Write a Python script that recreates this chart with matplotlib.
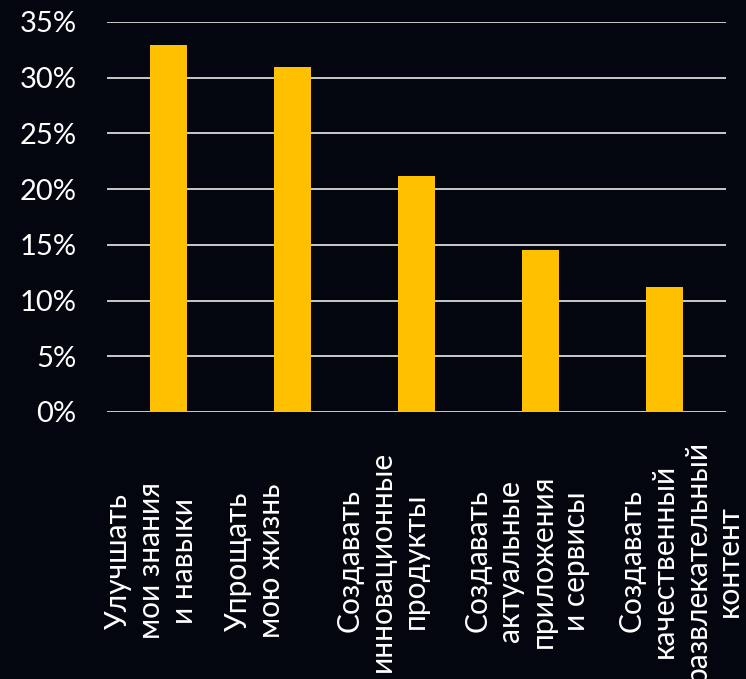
import matplotlib
matplotlib.use("Agg")
import matplotlib.pyplot as plt
import matplotlib.transforms as mtransforms
from matplotlib.ticker import PercentFormatter

categories = [
    "Улучшать\nмои знания\nи навыки",
    "Упрощать\nмою жизнь",
    "Создавать\nинновационные\nпродукты",
    "Создавать\nактуальные\nприложения\nи сервисы",
    "Создавать\nкачественный\nразвлекательный\nконтент",
]
values = [32.9, 31.0, 21.2, 14.5, 11.2]
yticks = [0, 5, 10, 15, 20, 25, 30, 35]

label_offsets = [-0.145, -0.31, -0.28, -0.11, 0.13]

BG = "#03060F"
BAR = "#FFC000"
GRID = "#D9D9D9"
FONT = ["Lato", "DejaVu Sans"]

plt.rcParams["font.family"] = FONT

fig = plt.figure(figsize=(7.46, 6.79), dpi=100, facecolor=BG)
ax = fig.add_axes([107/746, 1-412/679, 619/746, 390/679])
ax.set_facecolor(BG)

x = list(range(len(categories)))
ax.bar(x, values, width=0.3, color=BAR, zorder=3)

ax.set_xlim(-0.5, len(categories) - 0.5)
ax.set_ylim(0, 35)
ax.set_yticks(yticks)
ax.yaxis.set_major_formatter(PercentFormatter(decimals=0))
ax.tick_params(axis="y", length=0, pad=22, labelsize=21, labelcolor="white")
ax.set_xticks([])
ax.grid(axis="y", color=GRID, linewidth=1.3, zorder=1)
for s in ax.spines.values():
    s.set_visible(False)

trans = mtransforms.blended_transform_factory(ax.transData, ax.transAxes)
for i, (lab, off) in enumerate(zip(categories, label_offsets)):
    ax.text(i + off, -0.382, lab, transform=trans, rotation=90,
            ha="center", va="center", multialignment="center",
            color="white", fontsize=21.5,
            linespacing=1.2, clip_on=False)

fig.savefig("out.png", dpi=100, facecolor=BG)
